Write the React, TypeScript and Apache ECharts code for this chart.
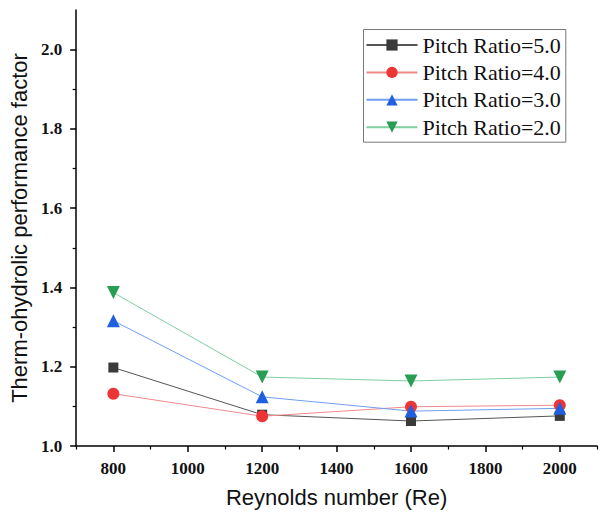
import React, { useEffect, useRef } from "react";
import * as echarts from "echarts";

const reynolds = [800, 1200, 1600, 2000];
const seriesNames = ["Pitch Ratio=5.0", "Pitch Ratio=4.0", "Pitch Ratio=3.0", "Pitch Ratio=2.0"];
const pr5 = [1.198, 1.079, 1.063, 1.076];
const pr4 = [1.132, 1.075, 1.099, 1.103];
const pr3 = [1.316, 1.124, 1.088, 1.095];
const pr2 = [1.387, 1.174, 1.164, 1.174];
const xLabels = [800, 1000, 1200, 1400, 1600, 1800, 2000];
const xMinor = [700, 900, 1100, 1300, 1500, 1700, 1900, 2100];
const yLabels = [1.0, 1.2, 1.4, 1.6, 1.8, 2.0];
const yMinor = [1.1, 1.3, 1.5, 1.7, 1.9];

export default function App() {
  const ref = useRef<HTMLDivElement>(null);
  useEffect(() => {
    if (!ref.current) return;
    const chart = echarts.init(ref.current, undefined, { renderer: "svg" });
    const serif = "'Liberation Serif', 'Times New Roman', serif";
    const sans = "'Liberation Sans', Arial, sans-serif";
    const mk = (name: string, data: number[], color: string, lineColor: string, symbol: string, size: number, rotate = 0) => ({
      name,
      type: "line",
      data: reynolds.map((x, i) => [x, data[i]]),
      symbol,
      symbolSize: size,
      symbolRotate: rotate,
      itemStyle: { color },
      lineStyle: { color: lineColor, width: 1 },
      xAxisIndex: 0,
      yAxisIndex: 0,
      z: 3,
    });
    const axisLine = { show: true, lineStyle: { color: "#000", width: 1.5 } };
    chart.setOption({
      animation: false,
      backgroundColor: "#fff",
      grid: { left: 76, right: 14, top: 10, bottom: 71 },
      legend: {
        orient: "vertical",
        left: 363.5,
        top: 29.5,
        data: seriesNames,
        itemWidth: 51,
        itemHeight: 14,
        itemGap: 5.4,
        padding: [4.5, 5, 4, 2],
        borderColor: "#777",
        borderWidth: 1,
        textStyle: { fontFamily: serif, fontSize: 22, color: "#111", lineHeight: 22 },
      },
      xAxis: [
        {
          type: "value",
          min: 700,
          max: 2100,
          interval: 100,
          name: "Reynolds number (Re)",
          nameLocation: "middle",
          nameGap: 40,
          nameTextStyle: { fontFamily: sans, fontSize: 22, color: "#111" },
          axisLine,
          axisTick: { show: true, length: 6, customValues: xLabels, lineStyle: { color: "#000", width: 1.5 } },
          axisLabel: {
            customValues: xLabels,
            fontFamily: serif,
            fontWeight: "bold",
            fontSize: 17,
            color: "#111",
            margin: 14,
            formatter: (v: number) => String(v),
          },
          splitLine: { show: false },
        },
        {
          type: "value",
          min: 700,
          max: 2100,
          interval: 100,
          position: "bottom",
          axisLine: { show: false },
          axisTick: { show: true, length: 3.5, customValues: xMinor, lineStyle: { color: "#000", width: 1.2 } },
          axisLabel: { show: false },
          splitLine: { show: false },
        },
      ],
      yAxis: [
        {
          type: "value",
          min: 1.0,
          max: 2.1,
          interval: 0.1,
          name: "Therm-ohydrolic performance factor",
          nameLocation: "middle",
          nameRotate: 90,
          nameGap: 45,
          nameTextStyle: { fontFamily: sans, fontSize: 22, color: "#111" },
          axisLine,
          axisTick: { show: true, length: 6, customValues: yLabels, lineStyle: { color: "#000", width: 1.5 } },
          axisLabel: {
            customValues: yLabels,
            fontFamily: serif,
            fontWeight: "bold",
            fontSize: 17,
            color: "#111",
            margin: 14,
            formatter: (v: number) => v.toFixed(1),
          },
          splitLine: { show: false },
        },
        {
          type: "value",
          min: 1.0,
          max: 2.1,
          interval: 0.1,
          position: "left",
          axisLine: { show: false },
          axisTick: { show: true, length: 3.5, customValues: yMinor, lineStyle: { color: "#000", width: 1.2 } },
          axisLabel: { show: false },
          splitLine: { show: false },
        },
      ],
      series: [
        mk(seriesNames[0], pr5, "#3a3a3a", "#555555", "rect", 10),
        mk(seriesNames[1], pr4, "#ee3535", "#f08a8a", "circle", 12),
        mk(seriesNames[2], pr3, "#1f5fe0", "#6f9ff0", "triangle", 13),
        mk(seriesNames[3], pr2, "#2a9d55", "#7fcfa0", "triangle", 13, 180),
      ],
    });
    return () => chart.dispose();
  }, []);
  return <div ref={ref} style={{ position: "fixed", left: 0, top: 0, width: 611, height: 517 }} />;
}
